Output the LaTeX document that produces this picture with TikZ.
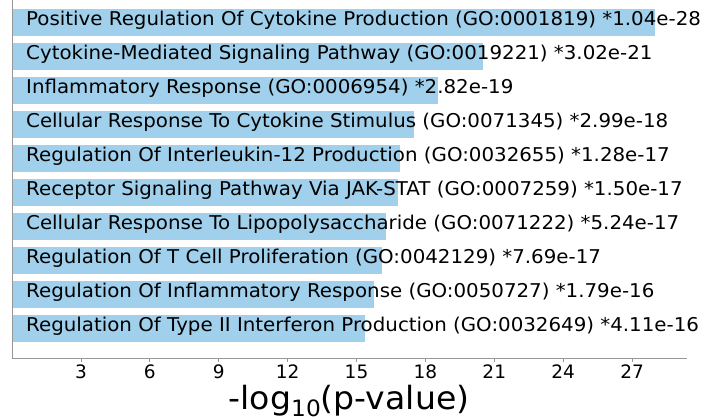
\documentclass[tikz,border=0pt]{standalone}
\usepackage{fontspec}
\setmainfont{DejaVu Sans}
\definecolor{barblue}{RGB}{160,208,236}
\definecolor{spinegray}{RGB}{150,150,150}
\newcommand{\wtext}[1]{\scalebox{1.043}[1]{#1}}
\begin{document}
\begin{tikzpicture}[x=1pt,y=-1pt,
  bar/.style={fill=barblue,draw=none},
  bartext/.style={anchor=mid west,inner sep=0pt,font=\fontsize{19}{19}\selectfont},
  ticklab/.style={anchor=base,inner sep=0pt,font=\fontsize{18.5}{18.5}\selectfont},
  spine/.style={draw=spinegray,line width=1pt}]
\useasboundingbox (0,0) rectangle (719,417);
\def\xz{12.1}\def\xs{22.96}
\foreach \v/\t [count=\k from 0] in {
 27.983/{Positive Regulation Of Cytokine Production (GO:0001819) *1.04e-28},
 20.520/{Cytokine-Mediated Signaling Pathway (GO:0019221) *3.02e-21},
 18.550/{Inflammatory Response (GO:0006954) *2.82e-19},
 17.524/{Cellular Response To Cytokine Stimulus (GO:0071345) *2.99e-18},
 16.893/{Regulation Of Interleukin-12 Production (GO:0032655) *1.28e-17},
 16.824/{Receptor Signaling Pathway Via JAK-STAT (GO:0007259) *1.50e-17},
 16.281/{Cellular Response To Lipopolysaccharide (GO:0071222) *5.24e-17},
 16.114/{Regulation Of T Cell Proliferation (GO:0042129) *7.69e-17},
 15.747/{Regulation Of Inflammatory Response (GO:0050727) *1.79e-16},
 15.386/{Regulation Of Type II Interferon Production (GO:0032649) *4.11e-16}}{
  \pgfmathsetmacro\yc{22.5+34*\k}
  \pgfmathsetmacro\xe{\xz+\xs*\v}
  \path[bar] (\xz,\yc-13.6) rectangle (\xe,\yc+13.6);
  \node[bartext] (lab\k) at (26,\yc) {\wtext{\t}};
}
\coordinate (ctop) at (12.1,0);
\coordinate (corig) at (12.1,358.5);
\coordinate (cright) at (687,358.5);
\draw[spine] (ctop) -- (corig) -- (cright);
\foreach \n in {3,6,...,27}{
  \pgfmathsetmacro\xt{\xz+\xs*\n}
  \coordinate (t\n) at (\xt,358.5);
  \draw[spinegray,line width=0.8pt] (t\n) -- ++(0,3.5);
  \node[ticklab] (tl\n) at (\xt,378) {\n};
}
\node[anchor=base,inner sep=0pt,font=\fontsize{32}{32}\selectfont] (xlabel) at (349,409.5)
  {\scalebox{1.035}[1]{-log\raisebox{-0.22em}{\fontsize{22.5}{22.5}\selectfont 10}(p-value)}};
\end{tikzpicture}
\end{document}
